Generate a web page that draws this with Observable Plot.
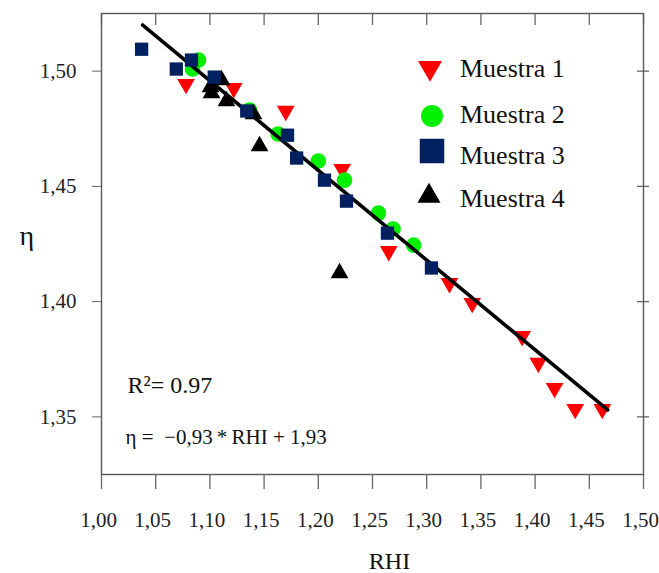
<!DOCTYPE html>
<html><head><meta charset="utf-8">
<script src="https://cdn.jsdelivr.net/npm/d3@7"></script>
<script src="https://cdn.jsdelivr.net/npm/@observablehq/plot@0.6"></script>
<style>body{margin:0;background:#fff}#chart{width:659px;height:573px}</style>
</head><body><div id="chart"></div>
<script>
// ---- data ----
const seriesNames = ["Muestra 1", "Muestra 2", "Muestra 3", "Muestra 4"];
const m1x = [1.078, 1.122, 1.170, 1.222, 1.265, 1.321, 1.342, 1.388, 1.403, 1.418, 1.437, 1.462];
const m1y = [1.4944, 1.4926, 1.4827, 1.4575, 1.4219, 1.408, 1.3994, 1.385, 1.3734, 1.3625, 1.3534, 1.3534];
const m2x = [1.084, 1.0895, 1.1365, 1.163, 1.200, 1.2242, 1.2555, 1.269, 1.288];
const m2y = [1.5009, 1.5048, 1.4831, 1.4727, 1.461, 1.4527, 1.4384, 1.4315, 1.4245];
const m3x = [1.037, 1.069, 1.083, 1.104, 1.134, 1.1716, 1.180, 1.2057, 1.226, 1.2638, 1.3044];
const m3y = [1.5095, 1.5009, 1.5048, 1.4974, 1.4827, 1.4722, 1.4623, 1.4527, 1.4436, 1.4297, 1.4146];
const m4x = [1.1107, 1.1006, 1.1015, 1.1153, 1.1402, 1.1458, 1.2196];
const m4y = [1.4961, 1.4931, 1.4905, 1.4870, 1.4814, 1.4675, 1.4124];
const fitX = [1.038, 1.467];
const fitY = [1.520, 1.353];
const xTicks = [1.00, 1.05, 1.10, 1.15, 1.20, 1.25, 1.30, 1.35, 1.40, 1.45, 1.50];
const yTicks = [1.35, 1.40, 1.45, 1.50];
const r2Text = "R²= 0.97";
const eqParts = [["η", true], [" =  −0,93", false], ["\u2009*\u2009", false], ["RHI", true], [" + 1,93", false]];
const xLabel = "RHI";
const yLabel = "η";

// ---- helpers ----
const pts = (xs, ys) => xs.map((x, i) => ({x, y: ys[i]}));
const fmt = d => d.toFixed(2).replace(".", ",");
const sqrt3 = Math.sqrt(3);
const triangleDown = {
  draw(context, size) {
    const y = -Math.sqrt(size / (sqrt3 * 3));
    context.moveTo(0, -y * 2);
    context.lineTo(-sqrt3 * y, y);
    context.lineTo(sqrt3 * y, y);
    context.closePath();
  }
};
const colors = ["#ff0000", "#00f000", "#002060", "#000000"];
const symbols = [triangleDown, d3.symbolCircle, d3.symbolSquare, d3.symbolTriangle];

const W = 659, H = 573, ML = 101, MR = 16, MT = 13, MB = 99;
const fw = W - ML - MR, fh = H - MT - MB;
const serif = "Liberation Serif, Times New Roman, serif";

const plot = Plot.plot({
  width: W, height: H,
  marginLeft: ML, marginRight: MR, marginTop: MT, marginBottom: MB,
  style: {fontFamily: serif, fontSize: "21px", background: "#fff", overflow: "visible"},
  x: {domain: [1.0, 1.5]},
  y: {domain: [1.325, 1.525]},
  marks: [
    // bottom tick marks (outward)
    Plot.tickX(xTicks, {x: d => d, insetTop: fh, insetBottom: -15, stroke: "#666", strokeWidth: 1.3}),
    // bottom tick labels, nudged slightly left like the reference
    Plot.axisX({ticks: xTicks, anchor: "bottom", tickSize: 0, tickPadding: 38, tickFormat: fmt,
      fill: "#222", label: null, fontSize: 21, fontFamily: serif, dx: -3}),
    Plot.axisY({ticks: yTicks, anchor: "left", tickSize: 9, tickPadding: 16, tickFormat: fmt,
      stroke: "#666", fill: "#222", label: null, fontSize: 21, fontFamily: serif}),
    // top ticks (inward) and right ticks (crossing)
    Plot.tickX(xTicks, {x: d => d, insetBottom: fh - 12, stroke: "#666", strokeWidth: 1.3}),
    Plot.tickY(yTicks, {y: d => d, insetLeft: fw - 6, insetRight: -6, stroke: "#666", strokeWidth: 1.3}),
    Plot.frame({stroke: "#595959", strokeWidth: 1.4}),
    Plot.dot(pts(m1x, m1y), {x: "x", y: "y", symbol: symbols[0], r: 6.6, fill: colors[0], stroke: "none"}),
    Plot.dot(pts(m2x, m2y), {x: "x", y: "y", symbol: "circle", r: 7.8, fill: colors[1], stroke: "none"}),
    Plot.line(pts(fitX, fitY), {x: "x", y: "y", stroke: "#000", strokeWidth: 3.6}),
    Plot.dot(pts(m4x, m4y), {x: "x", y: "y", symbol: "triangle", r: 6.6, fill: colors[3], stroke: "none"}),
    Plot.dot(pts(m3x, m3y), {x: "x", y: "y", symbol: "square", r: 7.5, fill: colors[2], stroke: "none"}),
    Plot.text([r2Text], {frameAnchor: "bottom-left", dx: 26, dy: -89, textAnchor: "start", lineAnchor: "middle",
      fontSize: 24, fill: "#111", fontFamily: serif}),
    Plot.text([eqParts.map(p => p[0]).join("")], {frameAnchor: "bottom-left", dx: 24, dy: -37, textAnchor: "start",
      lineAnchor: "middle", fontSize: 21, fill: "#111", fontFamily: serif, ariaLabel: "equation"}),
    Plot.text([xLabel], {frameAnchor: "bottom", dx: 17, dy: 87, lineAnchor: "middle", fontSize: 24, fill: "#111", fontFamily: serif}),
    Plot.text([yLabel], {frameAnchor: "left", dx: -82, dy: -8, lineAnchor: "middle", fontSize: 28, fill: "#111", fontFamily: serif})
  ]
});

// equation with italic parts
const eq = d3.select(plot).select('g[aria-label="equation"] text');
if (!eq.empty()) {
  eq.text(null);
  eqParts.forEach(([t, it]) => {
    const ts = eq.append("tspan").text(t);
    if (it) ts.attr("font-style", "italic");
    if (t.includes("*")) ts.attr("dy", "0.3em");
    if (t === "RHI") ts.attr("dy", "-0.3em");
  });
}

// legend inside the frame
const legend = d3.select(plot).append("g")
  .attr("font-family", serif).attr("font-size", 26).attr("fill", "#111").attr("text-anchor", "start");
const legRows = [
  {sym: 0, sx: 430, sy: 68, size: 250, ty: 68},
  {sym: 1, sx: 432, sy: 116, size: 380, ty: 114},
  {sym: 2, sx: 432, sy: 151, size: 600, ty: 155},
  {sym: 3, sx: 429, sy: 196, size: 230, ty: 198}
];
legRows.forEach((row, i) => {
  legend.append("path")
    .attr("transform", `translate(${row.sx},${row.sy})`)
    .attr("d", d3.symbol(symbols[row.sym], row.size)())
    .attr("fill", colors[row.sym]);
  legend.append("text").attr("x", 460).attr("y", row.ty).attr("dy", "0.35em").text(seriesNames[i]);
});

document.getElementById("chart").appendChild(plot);
</script>
</body></html>
